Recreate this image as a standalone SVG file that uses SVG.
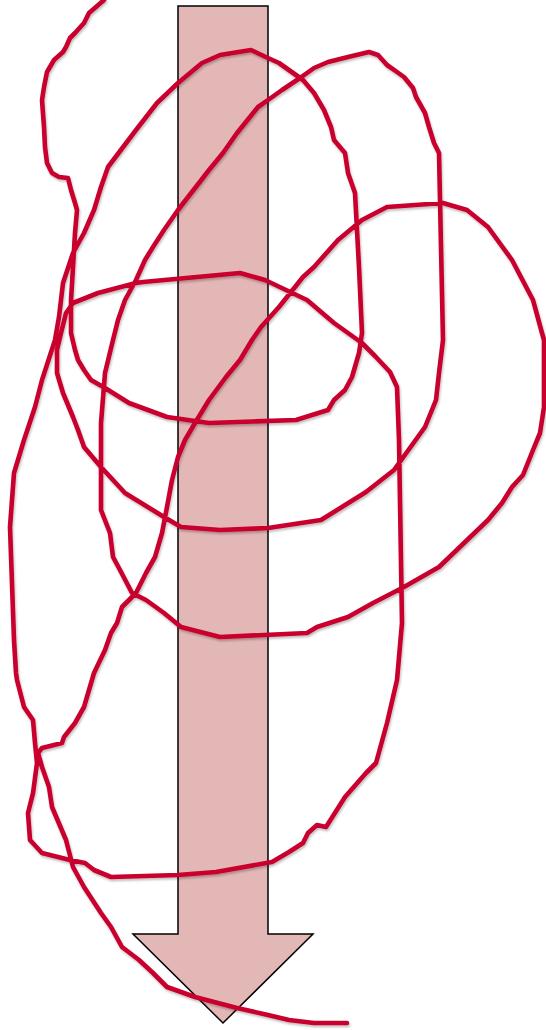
<svg xmlns="http://www.w3.org/2000/svg" width="546" height="1030" viewBox="0 0 546 1030">
<defs>
<style>
.arrow{fill:#e4b7b7;stroke:#000;stroke-width:1.5}
.scribble{fill:none;stroke:#c9002f;stroke-width:4.6;stroke-linejoin:round;stroke-linecap:round}
</style>
<filter id="sh" x="-5%" y="-5%" width="110%" height="110%">
<feDropShadow dx="1" dy="2" stdDeviation="1.2" flood-color="#000" flood-opacity="0.25"/>
</filter>
</defs>
<rect width="546" height="1030" fill="#fff"/>
<g id="arrow">
<polygon class="arrow" points="178,6 268,6 268,934 313,934 223,1023 133,934 178,934"/>
</g>
<g id="connectors">
<path class="scribble" filter="url(#sh)" d="M104,0 L89,13 L84,23 L75,33 L70,38 L66,47 L63,52 L54,60 L47,72 L44,87 L42,100 L44,127 L45,147 L47,163 L52,173 L59,177 L68,178 L71,190 L75,203 L77,210 L75,233 L73,267 L71,300 L71,333 L75,350 L78,360 L84,370 L91,380 L105,388 L129,403 L167,417 L209,423 L296,420 L328,410 L334,400 L345,390 L352,377 L359,353 L362,333 L359,267 L355,193 L348,173 L345,153 L334,140 L331,127 L324,110 L314,93 L303,80 L279,63 L268,58 L251,50 L220,55 L202,63 L178,83 L157,103 L136,130 L108,167 L101,187 L94,210 L84,233 L73,253 L63,283 L59,317 L55,340 L42,380 L35,407 L24,440 L14,473 L10,527 L14,640 L16,673 L17,680 L24,707 L33,720 L35,743 L37,763 L33,793 L28,813 L30,840 L42,853 L70,860 L85,863 L94,870 L111,877 L178,875 L216,872 L272,862 L289,852 L303,843 L308,833 L317,825 L326,827 L345,797 L366,773 L376,763 L387,723 L397,680 L402,623 L399,440 L397,387 L390,372 L375,356 L362,343 L334,323 L307,300 L286,290 L265,280 L240,273 L143,282 L136,283 L98,293 L73,303 L66,313 L61,333 L57,350 L57,373 L63,393 L73,417 L78,430 L84,447 L101,467 L125,493 L164,517 L181,527 L220,530 L268,528 L321,520 L366,492 L394,470 L425,427 L436,400 L439,373 L443,340 L439,153 L434,143 L429,127 L425,113 L416,97 L413,88 L404,77 L397,72 L387,65 L378,55 L369,52 L348,57 L328,62 L314,68 L300,78 L282,90 L268,100 L258,107 L237,133 L223,153 L209,170 L199,183 L188,197 L178,210 L164,230 L153,247 L145,260 L136,280 L125,300 L118,320 L113,340 L105,373 L101,423 L101,510 L110,533 L113,557 L120,570 L132,593 L146,600 L164,613 L181,627 L220,637 L307,633 L317,627 L348,617 L373,603 L404,587 L439,567 L488,520 L502,503 L512,487 L523,475 L533,450 L540,433 L544,407 L544,340 L542,333 L533,300 L512,260 L488,227 L467,210 L443,203 L387,207 L362,220 L338,240 L314,267 L303,277 L279,307 L261,327 L252,340 L240,360 L226,377 L209,400 L195,423 L185,440 L178,457 L172,480 L167,507 L162,533 L155,557 L146,573 L136,593 L122,607 L117,623 L111,633 L105,650 L94,673 L84,707 L75,723 L64,737 L62,743 L42,748 L38,753 L42,767 L49,787 L52,807 L66,840 L73,867 L84,887 L101,913 L111,927 L122,947 L139,960 L153,973 L167,987 L195,997 L237,1008 L268,1015 L289,1020 L314,1023 L347,1023"/>
</g>
</svg>
